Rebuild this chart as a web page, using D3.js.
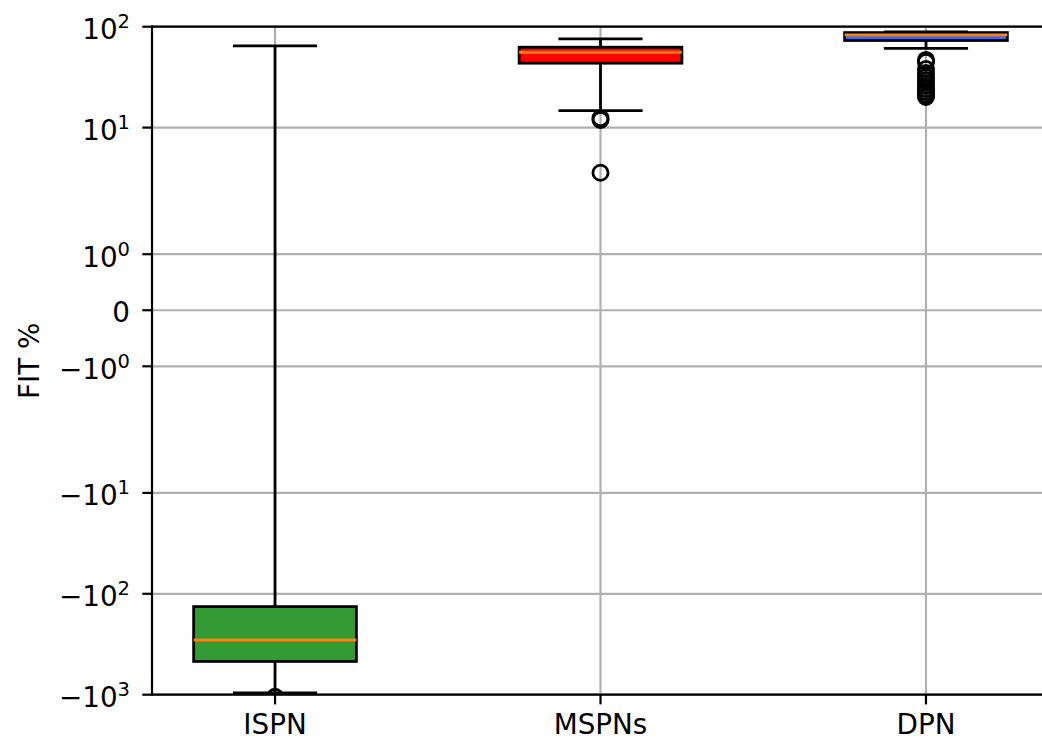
<!DOCTYPE html>
<html>
<head>
<meta charset="utf-8">
<script src="https://cdn.jsdelivr.net/npm/d3@7"></script>
<style>
  body { margin: 0; background: #fff; }
  text { font-family: "DejaVu Sans", sans-serif; }
</style>
</head>
<body>
<div id="chart"></div>
<script>
// Data (FIT %)
const categories = ['ISPN', 'MSPNs', 'DPN'];
const whiskerLow = [-960, 14.7, 61];
const q1 = [-468, 43.5, 73];
const median = [-287, 55.8, 82.8];
const q3 = [-134, 62.6, 87.4];
const whiskerHigh = [64.6, 75.7, 89];
const outliers = [
    [-1050],
    [12.4, 11.9, 3.57],
    [46.8, 44.8, 38.1, 34.8, 31.8, 29.7, 27.7, 25.9, 24.1, 22.5, 21.1, 20.1]
];
const yTicks = [100, 10, 1, 0, -1, -10, -100, -1000];
const yTickLabels = [['10', '2'], ['10', '1'], ['10', '0'], ['0', ''], ['\u221210', '0'],
    ['\u221210', '1'], ['\u221210', '2'], ['\u221210', '3']];

const boxColors = ['#339933', '#ff0000', '#4169e1'];

const width = 1042;
const height = 742;
const plotLeft = 152, plotRight = 1049, plotTop = 26.7, plotBottom = 694.7;

// matplotlib style symlog, linthresh 2, linscale 1
const linthresh = 2;
const linscaleAdj = 1 / (1 - 1 / 10);
function symlog(v) {
    const a = Math.abs(v);
    if (a <= linthresh) return v * linscaleAdj;
    return Math.sign(v) * linthresh * (linscaleAdj + Math.log10(a / linthresh));
}

const yLin = d3.scaleLinear()
    .domain([symlog(-1000), symlog(100)])
    .range([plotBottom, plotTop]);
const y = v => yLin(symlog(v));

const x = d3.scalePoint()
    .domain(categories)
    .range([plotLeft, plotRight])
    .padding(0.378);
const step = x.step();
const boxW = step * 0.5;
const capW = step * 0.25;

const svg = d3.select('#chart').append('svg')
    .attr('width', width)
    .attr('height', height);

svg.append('defs').append('clipPath')
    .attr('id', 'plot-clip')
    .append('rect')
    .attr('x', plotLeft)
    .attr('y', plotTop)
    .attr('width', plotRight - plotLeft)
    .attr('height', plotBottom - plotTop);

// Grid
const grid = svg.append('g');
grid.selectAll('.hgrid')
    .data(yTicks)
    .enter()
    .append('line')
    .attr('x1', plotLeft).attr('x2', plotRight)
    .attr('y1', d => y(d)).attr('y2', d => y(d))
    .attr('stroke', '#b0b0b0')
    .attr('stroke-width', 2.2);
grid.selectAll('.vgrid')
    .data(categories)
    .enter()
    .append('line')
    .attr('x1', d => x(d)).attr('x2', d => x(d))
    .attr('y1', plotTop).attr('y2', plotBottom)
    .attr('stroke', '#b0b0b0')
    .attr('stroke-width', 2.2);

// Boxes
const plot = svg.append('g').attr('clip-path', 'url(#plot-clip)');
const groups = plot.selectAll('.box')
    .data(categories)
    .enter()
    .append('g');

groups.append('rect')
    .attr('x', d => x(d) - boxW / 2)
    .attr('width', boxW)
    .attr('y', (d, i) => y(q3[i]))
    .attr('height', (d, i) => y(q1[i]) - y(q3[i]))
    .attr('fill', (d, i) => boxColors[i])
    .attr('stroke', '#000')
    .attr('stroke-width', 2.8);

// whiskers
groups.append('line')
    .attr('x1', d => x(d)).attr('x2', d => x(d))
    .attr('y1', (d, i) => y(q1[i])).attr('y2', (d, i) => y(whiskerLow[i]))
    .attr('stroke', '#000').attr('stroke-width', 2.8);
groups.append('line')
    .attr('x1', d => x(d)).attr('x2', d => x(d))
    .attr('y1', (d, i) => y(q3[i])).attr('y2', (d, i) => y(whiskerHigh[i]))
    .attr('stroke', '#000').attr('stroke-width', 2.8);

// caps
[whiskerLow, whiskerHigh].forEach(arr => {
    groups.append('line')
        .attr('x1', d => x(d) - capW / 2).attr('x2', d => x(d) + capW / 2)
        .attr('y1', (d, i) => y(arr[i])).attr('y2', (d, i) => y(arr[i]))
        .attr('stroke', '#000').attr('stroke-width', 2.8)
        .attr('stroke-linecap', 'square');
});

// medians
groups.append('line')
    .attr('x1', d => x(d) - boxW / 2).attr('x2', d => x(d) + boxW / 2)
    .attr('y1', (d, i) => y(median[i])).attr('y2', (d, i) => y(median[i]))
    .attr('stroke', '#ff7f0e').attr('stroke-width', 2.8);

// fliers
groups.each(function(d, i) {
    d3.select(this).selectAll('circle')
        .data(outliers[i])
        .enter()
        .append('circle')
        .attr('cx', x(d))
        .attr('cy', v => y(v))
        .attr('r', 7.6)
        .attr('fill', 'none')
        .attr('stroke', '#000')
        .attr('stroke-width', 2.8);
});

// Spines
svg.append('line')
    .attr('x1', plotLeft).attr('x2', plotRight).attr('y1', plotTop).attr('y2', plotTop)
    .attr('stroke', '#000').attr('stroke-width', 2.2);
svg.append('line')
    .attr('x1', plotLeft).attr('x2', plotRight).attr('y1', plotBottom).attr('y2', plotBottom)
    .attr('stroke', '#000').attr('stroke-width', 2.2);
svg.append('line')
    .attr('x1', plotLeft).attr('x2', plotLeft).attr('y1', plotTop - 1.1).attr('y2', plotBottom + 1.1)
    .attr('stroke', '#000').attr('stroke-width', 2.2);

// Y axis ticks and labels
const yAxis = svg.append('g');
yAxis.selectAll('.ytick')
    .data(yTicks)
    .enter()
    .append('line')
    .attr('x1', plotLeft - 9.7).attr('x2', plotLeft)
    .attr('y1', d => y(d)).attr('y2', d => y(d))
    .attr('stroke', '#000').attr('stroke-width', 2.2);

const yLabels = yAxis.selectAll('.ylabel')
    .data(yTicks)
    .enter()
    .append('text')
    .attr('x', 130)
    .attr('y', (d, i) => y(d) + (yTickLabels[i][1] ? 12.5 : 11.5))
    .attr('text-anchor', 'end')
    .style('font-size', '27.8px')
    .style('fill', '#000');
yLabels.append('tspan').text((d, i) => yTickLabels[i][0]);
yLabels.append('tspan')
    .attr('dy', -11)
    .style('font-size', '19.5px')
    .text((d, i) => yTickLabels[i][1]);

// X axis ticks and labels
svg.selectAll('.xtick')
    .data(categories)
    .enter()
    .append('line')
    .attr('x1', d => x(d)).attr('x2', d => x(d))
    .attr('y1', plotBottom).attr('y2', plotBottom + 9.7)
    .attr('stroke', '#000').attr('stroke-width', 2.2);

svg.selectAll('.xlabel')
    .data(categories)
    .enter()
    .append('text')
    .attr('x', d => x(d))
    .attr('y', 734)
    .attr('text-anchor', 'middle')
    .style('font-size', '27.8px')
    .text(d => d);

// Y axis title
svg.append('text')
    .attr('transform', 'translate(39,' + ((plotTop + plotBottom) / 2) + ') rotate(-90)')
    .attr('text-anchor', 'middle')
    .style('font-size', '27.8px')
    .text('FIT %');
</script>
</body>
</html>
